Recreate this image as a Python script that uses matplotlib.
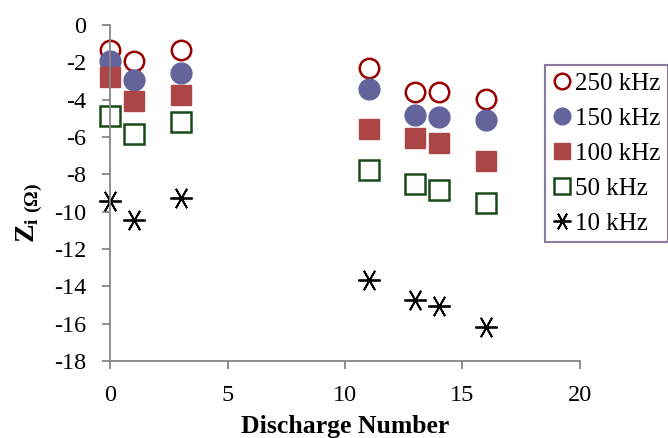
#!/usr/bin/env python3
import matplotlib
matplotlib.use("Agg")
import matplotlib.pyplot as plt

plt.rcParams["font.family"] = ["Liberation Serif", "DejaVu Serif"]
plt.rcParams["mathtext.fontset"] = "custom"
plt.rcParams["mathtext.rm"] = "Liberation Serif"
plt.rcParams["mathtext.bf"] = "Liberation Serif:bold"
plt.rcParams["axes.unicode_minus"] = False

discharge = [0, 1, 3, 11, 13, 14, 16]
z_250 = [-1.35, -1.95, -1.35, -2.3, -3.6, -3.6, -3.95]
z_150 = [-1.95, -2.95, -2.6, -3.45, -4.8, -4.95, -5.1]
z_100 = [-2.8, -4.05, -3.75, -5.6, -6.05, -6.3, -7.3]
z_50 = [-4.9, -5.85, -5.2, -7.75, -8.5, -8.85, -9.55]
z_10 = [-9.45, -10.45, -9.25, -13.65, -14.75, -15.05, -16.2]
labels = ["250 kHz", "150 kHz", "100 kHz", "50 kHz", "10 kHz"]

fig = plt.figure(figsize=(6.68, 4.38), dpi=100)
ax = fig.add_axes([0.165, 0.176, 0.703, 0.767])

kw = dict(ls="none", clip_on=False)
ax.plot(discharge, z_250, "o", ms=14, mfc="none", mec="#990000", mew=1.8, label=labels[0], **kw)
ax.plot(discharge, z_150, "o", ms=15, mfc="#64649c", mec="#64649c", label=labels[1], **kw)
ax.plot(discharge, z_100, "s", ms=15, mfc="#ac4646", mec="#ac4646", label=labels[2], **kw)
ax.plot(discharge, z_50, "s", ms=14, mfc="none", mec="#1a4a1a", mew=1.8, label=labels[3], **kw)
ax.plot(discharge, z_10, marker=(6, 2, 30), ms=16, mec="black", mew=1.3, label=labels[4], **kw)

ax.set_xlim(0, 20)
ax.set_ylim(-18, 0)
ax.set_xticks(range(0, 21, 5))
ax.set_yticks(range(-18, 1, 2))
ax.spines["top"].set_visible(False)
ax.spines["right"].set_visible(False)
for s in ("left", "bottom"):
    ax.spines[s].set_color("#868686")
    ax.spines[s].set_linewidth(1.3)
ax.tick_params(colors="#868686", labelcolor="black", labelsize=17.5, length=6, width=1.3, direction="out")
ax.tick_params(axis="x", pad=11)
ax.tick_params(axis="y", pad=11)

ax.set_xlabel("Discharge Number", fontsize=18.5, fontweight="bold")
ax.xaxis.set_label_coords(0.5, -0.162)
ax.xaxis.label.set_va("top")
ax.set_ylabel(r"$\mathbf{Z}_{\mathbf{i\ (\Omega)}}$", fontsize=20)
ax.yaxis.set_label_coords(-0.138, 0.44)

leg = ax.legend(loc="upper left", bbox_to_anchor=(0.816, 0.852), bbox_transform=fig.transFigure,
                fontsize=18, frameon=True, fancybox=False, edgecolor="#6a5a8a",
                handlelength=0.75, handletextpad=0.15, borderpad=0.3, labelspacing=0.5,
                markerscale=0.8, borderaxespad=0)
leg.get_frame().set_linewidth(1.5)

fig.savefig("out.png", dpi=100)
